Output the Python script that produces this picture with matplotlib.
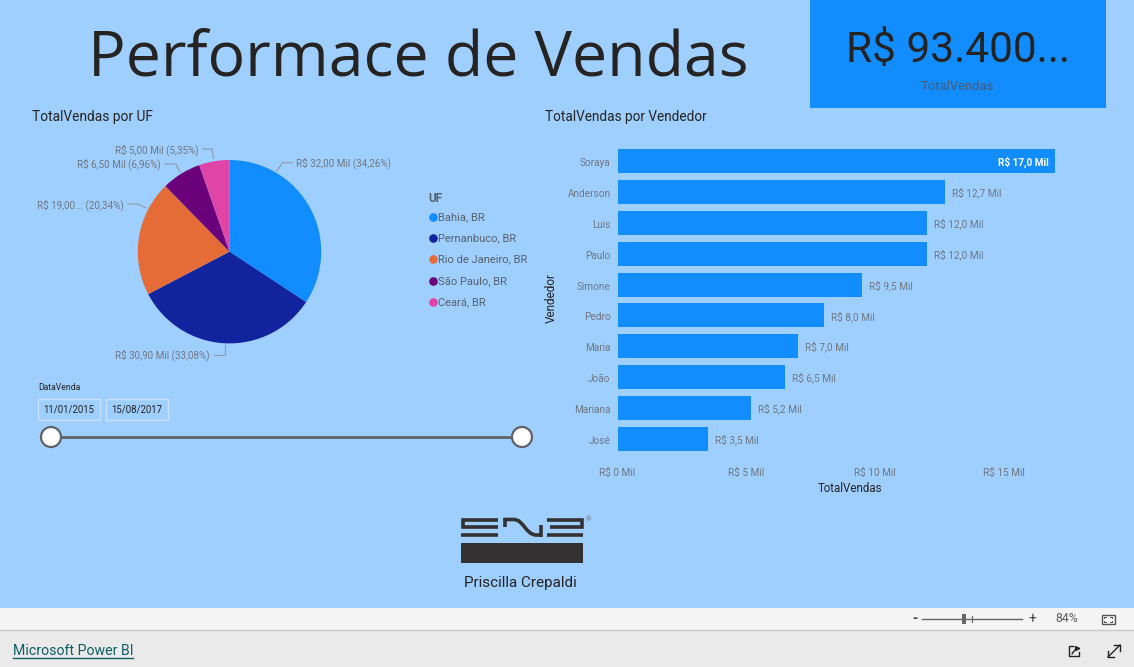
import matplotlib
matplotlib.use("Agg")
import matplotlib.pyplot as plt
from matplotlib.patches import Rectangle, Circle
from matplotlib.transforms import ScaledTranslation

W, H = 1134, 667
BG = "#9FCFFF"
FONT = "Roboto"
plt.rcParams["font.family"] = [FONT, "DejaVu Sans"]

uf_names = ["Bahia, BR", "Pernanbuco, BR", "Rio de Janeiro, BR", "São Paulo, BR", "Ceará, BR"]
uf_values = [32.0, 30.9, 19.0, 6.5, 5.0]
uf_colors = ["#118DFF", "#12239E", "#E66C37", "#6B007B", "#E044A7"]
uf_labels = ["R$ 32,00 Mil (34,26%)", "R$ 30,90 Mil (33,08%)", "R$ 19,00... (20,34%)",
             "R$ 6,50 Mil (6,96%)", "R$ 5,00 Mil (5,35%)"]

sellers = ["Soraya", "Anderson", "Luis", "Paulo", "Simone", "Pedro", "Maria", "João", "Mariana", "José"]
seller_values = [17.0, 12.7, 12.0, 12.0, 9.5, 8.0, 7.0, 6.5, 5.2, 3.5]
seller_labels = ["R$ 17,0 Mil", "R$ 12,7 Mil", "R$ 12,0 Mil", "R$ 12,0 Mil", "R$ 9,5 Mil",
                 "R$ 8,0 Mil", "R$ 7,0 Mil", "R$ 6,5 Mil", "R$ 5,2 Mil", "R$ 3,5 Mil"]
x_ticks = [0, 5, 10, 15]
x_tick_labels = ["R$ 0 Mil", "R$ 5 Mil", "R$ 10 Mil", "R$ 15 Mil"]

date_start, date_end = "11/01/2015", "15/08/2017"

fig = plt.figure(figsize=(W / 100, H / 100), dpi=100, facecolor=BG)

def axpx(x0, y0, x1, y1, **kw):
    return fig.add_axes([x0 / W, 1 - y1 / H, (x1 - x0) / W, (y1 - y0) / H], **kw)

# pixel overlay
ov = axpx(0, 0, W, H, zorder=5)
ov.set_xlim(0, W); ov.set_ylim(H, 0); ov.axis("off"); ov.patch.set_alpha(0)

GRAY = "#6f7780"
DARK = "#252423"

# KPI card
ov.add_patch(Rectangle((810, 0), 296, 107.5, fc="#118DFF", ec="none"))
ov.text(958.5, 51, "R$ 93.400...", fontsize=30.5, color=DARK, ha="center", va="center")
ov.text(957, 87, "TotalVendas", fontsize=9.4, color="#4b5b6e", ha="center", va="center")
ov.text(88.5, 76, "Performace de Vendas", fontsize=45.1, color=DARK, ha="left", va="baseline",
        family=["Open Sans", "DejaVu Sans"])

# titles
ov.text(32, 117, "TotalVendas por UF", fontsize=9.9, color=DARK, va="center")
ov.text(545, 117, "TotalVendas por Vendedor", fontsize=9.85, color=DARK, va="center")

# pie
cx, cy, r = 229.5, 251.7, 91.7
pie_ax = axpx(cx - r, cy - r, cx + r, cy + r)
pie_ax.pie(uf_values, colors=uf_colors, startangle=90, counterclock=False, radius=1,
           wedgeprops=dict(linewidth=0))
pie_ax.set_xlim(-1, 1); pie_ax.set_ylim(-1, 1)

pie_pos = [(296, 163.5, "left"), (210, 355.5, "right"), (124, 205.5, "right"),
           (161, 164.5, "right"), (198.5, 150.5, "right")]
for (x, y, ha), lab in zip(pie_pos, uf_labels):
    ov.text(x, y, lab, fontsize=7.1, color=GRAY, ha=ha, va="center")
leaders = [([277, 282.5, 292.5], [170.7, 162.7, 162.7]),
           ([224.5, 224.5, 214], [345, 355, 355]),
           ([146, 138, 128], [208, 204, 204]),
           ([180, 176, 165], [172, 164, 164]),
           ([213.5, 212, 202.5], [158, 149, 149])]
for xs, ys in leaders:
    ov.plot(xs, ys, color="#8f9aa6", lw=0.8)

# legend
ov.text(428, 199, "UF", fontsize=8.5, color="#56606b", fontweight="bold", va="center")
leg_y = [217, 238, 259, 281, 302]
for name, col, y in zip(uf_names, uf_colors, leg_y):
    ov.plot([432.5], [y], "o", ms=6.2, color=col, mew=0)
    ov.text(438.5, y, name, fontsize=8, color="#56606b", va="center")

# bars
bar_ax = axpx(617.5, 146, 1080, 454)
bar_ax.patch.set_alpha(0)
bar_ax.barh(range(len(sellers)), seller_values, height=0.78, color="#118DFF", linewidth=0)
bar_ax.set_xlim(0, (1080 - 617.5) / 25.76)
bar_ax.set_ylim(len(sellers) - 0.5, -0.5)
bar_ax.set_yticks(range(len(sellers)), sellers)
bar_ax.set_xticks(x_ticks, x_tick_labels)
bar_ax.tick_params(length=0, labelsize=7.2, labelcolor=GRAY, pad=5)
bar_ax.tick_params(axis="x", pad=10)
for lbl in bar_ax.get_yticklabels():
    lbl.set_transform(lbl.get_transform() + ScaledTranslation(0, -0.7 / 72, fig.dpi_scale_trans))
for s in bar_ax.spines.values():
    s.set_visible(False)
for i, (v, lab) in enumerate(zip(seller_values, seller_labels)):
    if i == 0:
        bar_ax.annotate(lab, (v, i), xytext=(-4.5, -0.7), textcoords="offset points", ha="right", va="center",
                        fontsize=7.2, color="white", fontweight="bold")
    else:
        bar_ax.annotate(lab, (v, i), xytext=(5, -0.7), textcoords="offset points", ha="left", va="center",
                        fontsize=7.2, color=GRAY)
ov.text(850, 488.5, "TotalVendas", fontsize=8.3, color=DARK, ha="center", va="center")
ov.text(551, 298, "Vendedor", fontsize=8.5, color=DARK, ha="center", va="center", rotation=90)

# date slicer
ov.text(38, 388, "DataVenda", fontsize=6.2, color=DARK, va="center")
for x0, x1, t in [(38, 100, date_start), (105.5, 167.5, date_end)]:
    ov.add_patch(Rectangle((x0, 398.5), x1 - x0, 21, fc="none", ec="#C9E2FA", lw=1))
    ov.text((x0 + x1) / 2, 409.5, t, fontsize=6.9, color=DARK, ha="center", va="center")
ov.plot([51, 521], [437, 437], color="#5f6368", lw=2, solid_capstyle="butt")
for x in (51, 522):
    ov.add_patch(Circle((x, 437), 10, fc="white", ec="#5f6368", lw=1.6, zorder=6))

# logo
LC = "#333132"
ov.add_patch(Rectangle((461, 543), 122, 20, fc=LC, ec="none"))
lw = 2.6
style = dict(color=LC, lw=lw, solid_capstyle="butt", solid_joinstyle="miter")
# E
ov.plot([498, 463, 463, 498], [519.5, 519.5, 526.5, 526.5], **style)
ov.plot([461, 498], [535, 535], **style)
# N
ov.plot([505, 505], [518, 527], **style)
ov.plot([503.5, 515, 519, 523, 527, 531, 535, 542], [519.5, 519.5, 521, 525, 530, 533.5, 535, 535], **style)
ov.plot([540.5, 540.5], [525, 536.5], **style)
# S
ov.plot([547, 581.5, 581.5, 550], [519.5, 519.5, 527, 527], **style)
ov.plot([547, 583], [535, 535], **style)
ov.text(589, 520, "®", fontsize=5, color="#777777", ha="center", va="center")
ov.text(520, 582.5, "Priscilla Crepaldi", fontsize=11, color=DARK, ha="center", va="center")

# footer
ov.add_patch(Rectangle((0, 608), W, 22, fc="#F4F4F4", ec="none"))
ov.add_patch(Rectangle((0, 630), W, 37, fc="#EAEAEA", ec="none"))
ov.plot([0, W], [630, 630], color="#C8C8C8", lw=1)
ov.text(915, 619, "-", fontsize=10, color="#444444", ha="center", va="center", fontweight="bold")
ov.plot([922, 1022], [619, 619], color="#666666", lw=1)
ov.add_patch(Rectangle((962, 614), 4, 10, fc="#666666", ec="none"))
ov.plot([972, 972], [616, 622], color="#666666", lw=0.8)
ov.text(1032, 619, "+", fontsize=10, color="#444444", ha="center", va="center")
ov.text(1067, 619, "84%", fontsize=8.8, color="#605E5C", ha="center", va="center")
# fit-to-page icon
ov.add_patch(Rectangle((1101.5, 614.5), 13, 9.5, fc="none", ec="#555555", lw=1))
for xs, ys in [([1104, 1104, 1106], [618, 616.5, 616.5]), ([1110, 1112, 1112], [616.5, 616.5, 618]),
               ([1104, 1104, 1106], [620.5, 622, 622]), ([1110, 1112, 1112], [622, 622, 620.5])]:
    ov.plot(xs, ys, color="#555555", lw=0.7)
ov.text(13, 651, "Microsoft Power BI", fontsize=10.2, color="#0F5F66", va="center")
ov.plot([13, 133], [658, 658], color="#0F5F66", lw=1)
# share icon
ov.plot([1073, 1069, 1069, 1079, 1079], [646, 646, 656, 656, 652], color="#222222", lw=1)
ov.annotate("", xy=(1081, 648.5), xytext=(1072, 654), arrowprops=dict(arrowstyle="-|>", color="#222222", lw=1, mutation_scale=7, connectionstyle="arc3,rad=-0.3", shrinkA=0, shrinkB=0))
# expand icon
ov.plot([1108, 1120], [657, 645], color="#222222", lw=1)
ov.plot([1114, 1120, 1120], [645, 645, 651], color="#222222", lw=1)
ov.plot([1108, 1108, 1114], [651, 657, 657], color="#222222", lw=1)

fig.savefig("out.png", dpi=100, facecolor=BG)
